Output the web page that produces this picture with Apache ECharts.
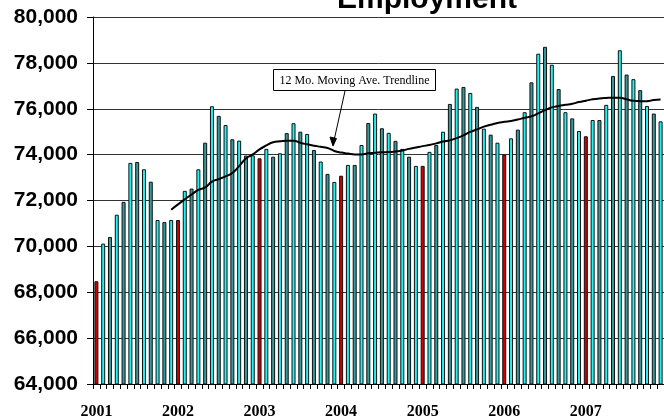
<!DOCTYPE html>
<html>
<head>
<meta charset="utf-8">
<script src="https://cdn.jsdelivr.net/npm/echarts@6/dist/echarts.min.js"></script>
<style>html,body{margin:0;padding:0;background:#fff;}#c{width:664px;height:420px;}</style>
</head>
<body>
<div id="c"></div>
<script>
const years = ['2001','2002','2003','2004','2005','2006','2007'];
const monthsPerYear = 12;
const employment = [
  68480, 70120, 70410, 71380, 71940, 73640, 73680, 73360, 72820, 71150, 71060, 71150,
  71150, 72420, 72520, 73360, 74520, 76110, 75690, 75290, 74670, 74610, 73960, 73970,
  73840, 74250, 73910, 74060, 74940, 75370, 75000, 74900, 74200, 73700, 73160, 72810,
  73080, 73550, 73550, 74420, 75380, 75790, 75150, 74950, 74600, 74250, 73910, 73510,
  73510, 74120, 74420, 75000, 76210, 76880, 76950, 76690, 76080, 75130, 74870, 74520,
  74000, 74710, 75090, 75850, 77150, 78400, 78700, 77920, 76860, 75850, 75580, 75030,
  74800, 75510, 75510, 76170, 77430, 78550, 77490, 77290, 76810, 76120, 75790, 75450
];
const movingAvg = [
  null, null, null, null, null, null, null, null, null, null, null, 71600,
  71830, 72050, 72260, 72460, 72570, 72820, 72930, 73050, 73200, 73500, 73830, 74010,
  74230, 74400, 74540, 74580, 74610, 74610, 74520, 74450, 74390, 74340, 74290, 74160,
  74090, 74050, 74010, 74010, 74060, 74080, 74100, 74110, 74140, 74180, 74250, 74310,
  74370, 74420, 74490, 74570, 74620, 74720, 74840, 74990, 75100, 75220, 75300, 75380,
  75430, 75470, 75530, 75610, 75670, 75800, 75940, 76060, 76120, 76170, 76220, 76290,
  76350, 76410, 76450, 76470, 76480, 76480, 76410, 76350, 76330, 76330, 76380, 76400
];
const yTicks = {min: 64000, max: 80000, interval: 2000};

const categories = [];
years.forEach(y => { for (let m = 1; m <= monthsPerYear; m++) categories.push(y + '-' + (m < 10 ? '0' + m : m)); });

const chart = echarts.init(document.getElementById('c'), null, {renderer: 'canvas'});
chart.setOption({
  animation: false,
  backgroundColor: '#ffffff',
  grid: {left: 93, right: 0, top: 17, bottom: 36, containLabel: false},
  xAxis: {
    type: 'category',
    data: categories,
    boundaryGap: true,
    axisLine: {lineStyle: {color: '#000', width: 1}},
    axisTick: {show: true, interval: 0, length: 5, lineStyle: {color: '#000'}},
    axisLabel: {
      interval: 0, margin: 20,
      fontFamily: 'Liberation Serif', fontWeight: 'bold', fontSize: 16, color: '#000',
      formatter: v => v.endsWith('-01') ? v.slice(0, 4) : ''
    },
    splitLine: {show: false}
  },
  yAxis: {
    type: 'value',
    min: yTicks.min, max: yTicks.max, interval: yTicks.interval,
    axisLine: {show: true, lineStyle: {color: '#000', width: 1}},
    axisTick: {show: true, length: 6, lineStyle: {color: '#000'}},
    axisLabel: {
      margin: 15, fontFamily: 'Liberation Sans', fontWeight: 'bold', fontSize: 21, color: '#000',
      formatter: v => v.toLocaleString('en-US')
    },
    splitLine: {show: true, lineStyle: {color: '#333', width: 1}}
  },
  series: [
    {
      type: 'bar',
      data: employment,
      barWidth: 4,
      itemStyle: {
        borderColor: '#111', borderWidth: 1,
        color: p => p.dataIndex % 12 === 0 ? '#cc0000' : (p.dataIndex % 2 === 1 ? '#22f2f2' : '#359a9a')
      }
    },
    {
      type: 'line',
      data: movingAvg,
      smooth: true,
      symbol: 'none',
      lineStyle: {color: '#000', width: 2},
      z: 5
    }
  ],
  graphic: [
    {type: 'text', style: {text: 'Employment', x: 427, y: 15, align: 'center', verticalAlign: 'bottom', font: 'bold 30px "Liberation Sans"', fill: '#000'}, z: 10},
    {type: 'rect', shape: {x: 273.5, y: 69.5, width: 162, height: 21}, style: {fill: '#fff', stroke: '#000', lineWidth: 1}, z: 10},
    {type: 'text', style: {text: '12 Mo. Moving Ave. Trendline', x: 354.5, y: 80.5, align: 'center', verticalAlign: 'middle', font: '12px "Liberation Serif"', fill: '#000'}, z: 11},
    {type: 'line', shape: {x1: 345, y1: 91, x2: 333, y2: 145}, style: {stroke: '#000', lineWidth: 1}, z: 10},
    {type: 'polygon', shape: {points: [[333, 146], [330, 137], [336.5, 138.5]]}, style: {fill: '#000', stroke: '#000', lineWidth: 1}, z: 10}
  ]
});
</script>
</body>
</html>
